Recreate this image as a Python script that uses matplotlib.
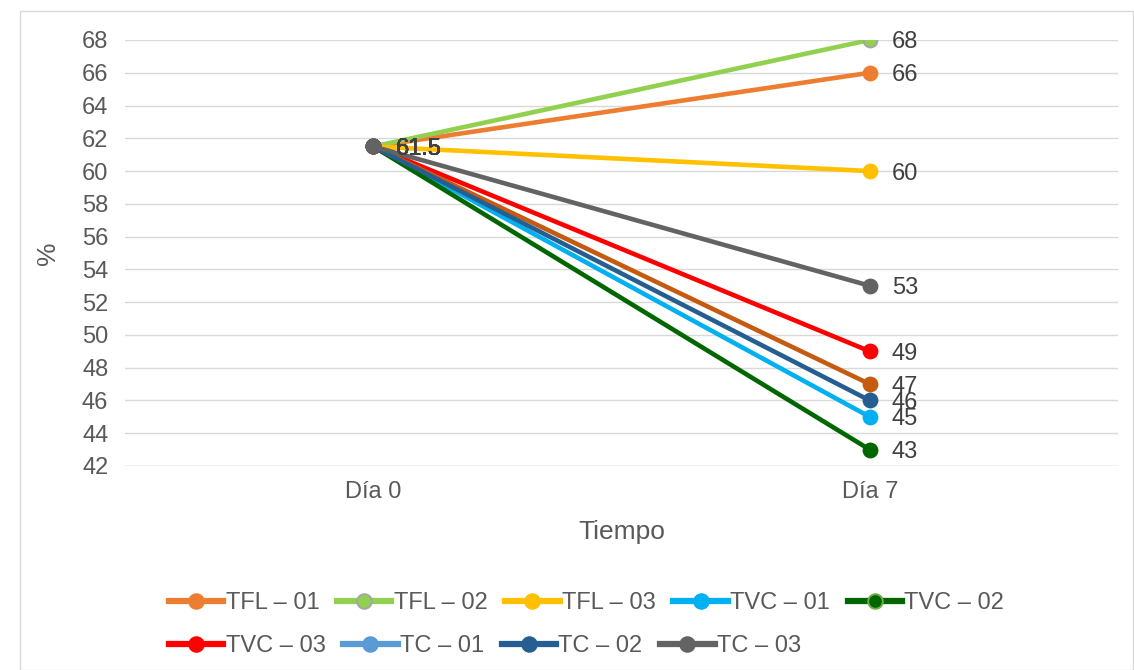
import matplotlib
matplotlib.use("Agg")
import matplotlib.pyplot as plt
from matplotlib.lines import Line2D
from matplotlib.patches import Rectangle

plt.rcParams['font.family'] = ['Liberation Sans', 'DejaVu Sans']

dias = ['Día 0', 'Día 7']
series = ['TFL – 01', 'TFL – 02', 'TFL – 03', 'TVC – 01', 'TVC – 02',
          'TVC – 03', 'TC – 01', 'TC – 02', 'TC – 03']
tfl_01 = [61.5, 66]
tfl_02 = [61.5, 68]
tfl_03 = [61.5, 60]
tvc_01 = [61.5, 45]
tvc_02 = [61.5, 43]
tvc_03 = [61.5, 49]
tc_01 = [61.5, 47]
tc_02 = [61.5, 46]
tc_03 = [61.5, 53]
valores = [tfl_01, tfl_02, tfl_03, tvc_01, tvc_02, tvc_03, tc_01, tc_02, tc_03]

# line colour, marker edge, legend colour, legend marker edge
line_col = ['#ED7D31', '#92D050', '#FFC000', '#00B0F0', '#006600',
            '#FF0000', '#C55A11', '#255E91', '#636363']
edge_col = ['#ED7D31', '#A5A5A5', '#FFC000', '#00B0F0', '#006600',
            '#FF0000', '#C55A11', '#255E91', '#636363']
leg_col = ['#ED7D31', '#92D050', '#FFC000', '#00B0F0', '#006600',
           '#FF0000', '#5B9BD5', '#255E91', '#636363']
leg_edge = ['#ED7D31', '#A5A5A5', '#FFC000', '#00B0F0', '#70AD47',
            '#FF0000', '#5B9BD5', '#255E91', '#636363']

gris = '#595959'

fig = plt.figure(figsize=(11.34, 6.7), dpi=100)
fig.patches.append(Rectangle((20 / 1134, 0), 1 - 21 / 1134, 1 - 11 / 670,
                             transform=fig.transFigure, fill=False,
                             edgecolor='#D9D9D9', linewidth=1))
ax = fig.add_axes([125 / 1134, 1 - 466 / 670, (1118 - 125) / 1134, (466 - 40) / 670])

x = [0.5, 1.5]
for v, lc, ec in zip(valores, line_col, edge_col):
    ax.plot(x, v, color=lc, linewidth=3.3, marker='o', markersize=10,
            markerfacecolor=lc, markeredgecolor=ec, markeredgewidth=1.4,
            solid_capstyle='round', zorder=3)
    for xi, yi in zip(x, v):
        ax.annotate(f'{yi:g}', (xi, yi), xytext=(16, 0), textcoords='offset points',
                    va='center_baseline', ha='left', fontsize=17, color='#404040',
                    zorder=4)

ax.set_xlim(0, 2)
ax.set_ylim(42, 68)
ax.set_yticks(range(42, 69, 2))
ax.set_xticks(x)
ax.set_xticklabels(dias)
ax.tick_params(axis='both', length=0, labelsize=17, labelcolor=gris)
ax.tick_params(axis='y', pad=12)
ax.tick_params(axis='x', pad=11)
ax.grid(axis='y', color='#D9D9D9', linewidth=1)
ax.set_axisbelow(True)
for s in ax.spines.values():
    s.set_visible(False)
ax.axhline(42, color='#D9D9D9', linewidth=1, zorder=1)

ax.set_xlabel('Tiempo', fontsize=19, color=gris, labelpad=12)
ax.set_ylabel('%', fontsize=19, color=gris, labelpad=16)

handles = [Line2D([], [], color=c, linewidth=4.5, marker='o', markersize=10.5,
                  markerfacecolor=c, markeredgecolor=e, markeredgewidth=1.4)
           for c, e in zip(leg_col, leg_edge)]
common = dict(frameon=False, fontsize=17, handlelength=2.3, handletextpad=0.1,
              columnspacing=0.75, labelcolor=gris, loc='center left',
              borderpad=0, borderaxespad=0)
fig.legend(handles[:5], series[:5], ncol=5,
           bbox_to_anchor=(169 / 1134, 1 - 603 / 670), **common)
fig.legend(handles[5:], series[5:], ncol=4,
           bbox_to_anchor=(169 / 1134, 1 - 646 / 670), **common)

fig.savefig('out.png', dpi=100)
